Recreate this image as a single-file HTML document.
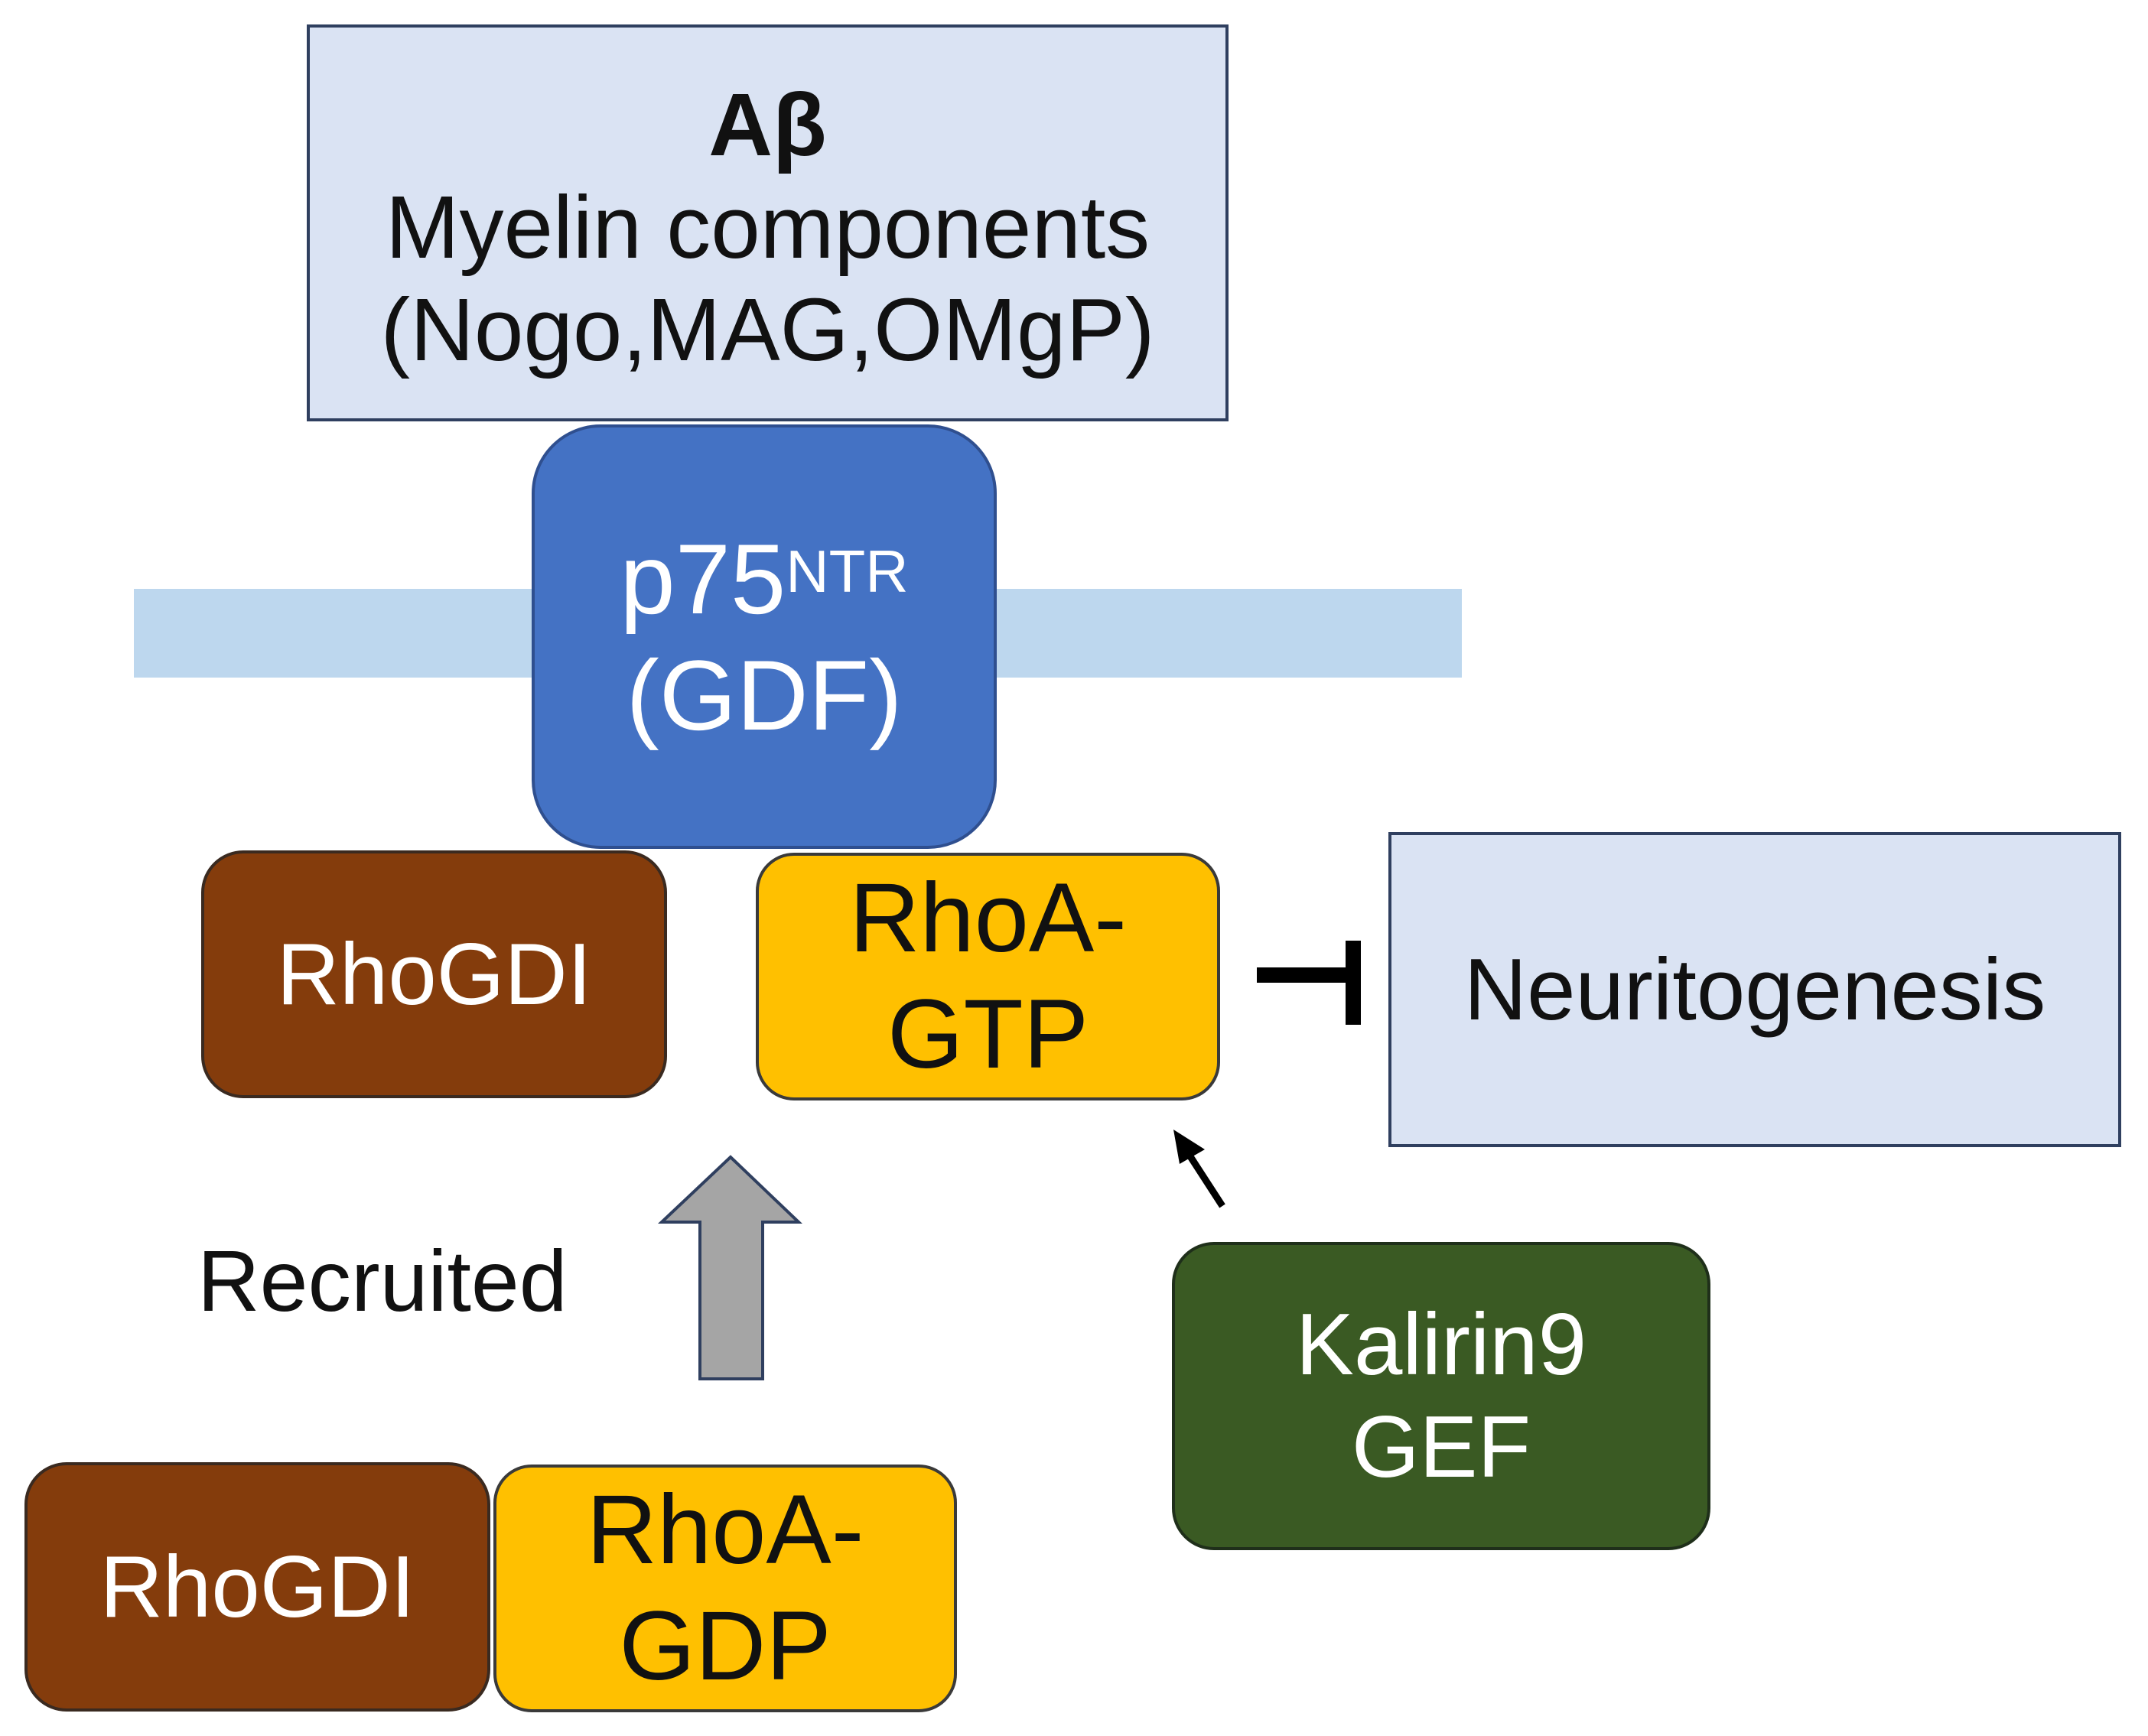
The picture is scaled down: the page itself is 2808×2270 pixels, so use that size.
<!DOCTYPE html>
<html><head><meta charset="utf-8"><style>
html,body{margin:0;padding:0;background:#fff;}
body{width:2808px;height:2270px;position:relative;overflow:hidden;font-family:"Liberation Sans",Arial,sans-serif;}
.b{position:absolute;box-sizing:border-box;display:flex;align-items:center;justify-content:center;text-align:center;}
</style></head><body>
<div class="b" style="left:175px;top:770px;width:1736px;height:116px;background:#bdd7ee;"></div>
<div class="b" style="left:401px;top:32px;width:1205px;height:519px;background:#dae3f3;border:4px solid #2f3f5f;flex-direction:column;font-size:116px;line-height:134px;color:#111;padding-top:10px;">
<div style="font-weight:bold">Aβ</div><div>Myelin components</div><div>(Nogo,MAG,OMgP)</div></div>
<div class="b" style="left:695px;top:555px;width:608px;height:555px;background:#4472c4;border:4px solid #2f4f8f;border-radius:90px;flex-direction:column;color:#fff;font-size:130px;line-height:152px;">
<div>p75<sup style="font-size:78px;vertical-align:top;position:relative;top:-10px">NTR</sup></div><div>(GDF)</div></div>
<div class="b" style="left:263px;top:1112px;width:609px;height:324px;background:#843c0c;border:4px solid #3a2a20;border-radius:55px;color:#fff;font-size:114px;">RhoGDI</div>
<div class="b" style="left:988px;top:1115px;width:607px;height:324px;background:#ffc000;border:4px solid #3a3a3a;border-radius:50px;color:#111;font-size:128px;line-height:152px;flex-direction:column;"><div>RhoA-</div><div>GTP</div></div>
<div class="b" style="left:1815px;top:1088px;width:958px;height:412px;background:#dae3f3;border:4px solid #2f3f5f;font-size:114px;color:#111;">Neuritogenesis</div>
<div class="b" style="left:1532px;top:1624px;width:704px;height:403px;background:#3a5a23;border:4px solid #1f2f1a;border-radius:55px;color:#fff;font-size:114px;line-height:134px;flex-direction:column;"><div>Kalirin9</div><div>GEF</div></div>
<div class="b" style="left:32px;top:1912px;width:609px;height:326px;background:#843c0c;border:4px solid #3a2a20;border-radius:55px;color:#fff;font-size:114px;">RhoGDI</div>
<div class="b" style="left:645px;top:1915px;width:606px;height:324px;background:#ffc000;border:4px solid #3a3a3a;border-radius:50px;color:#111;font-size:128px;line-height:152px;flex-direction:column;"><div>RhoA-</div><div>GDP</div></div>
<div style="position:absolute;left:258px;top:1610px;font-size:113px;color:#111;">Recruited</div>
<svg width="2808" height="2270" style="position:absolute;left:0;top:0">
<polygon points="915,1803 997,1803 997,1598 1044,1598 955,1513 865,1598 915,1598" fill="#a5a5a5" stroke="#2f3f5f" stroke-width="4"/>
<line x1="1643" y1="1275" x2="1770" y2="1275" stroke="#000" stroke-width="20"/>
<line x1="1769" y1="1230" x2="1769" y2="1340" stroke="#000" stroke-width="20"/>
<line x1="1598" y1="1577" x2="1552" y2="1506" stroke="#000" stroke-width="9"/>
<polygon points="1534,1477 1575,1503 1542,1522" fill="#000"/>
</svg>
</body></html>
